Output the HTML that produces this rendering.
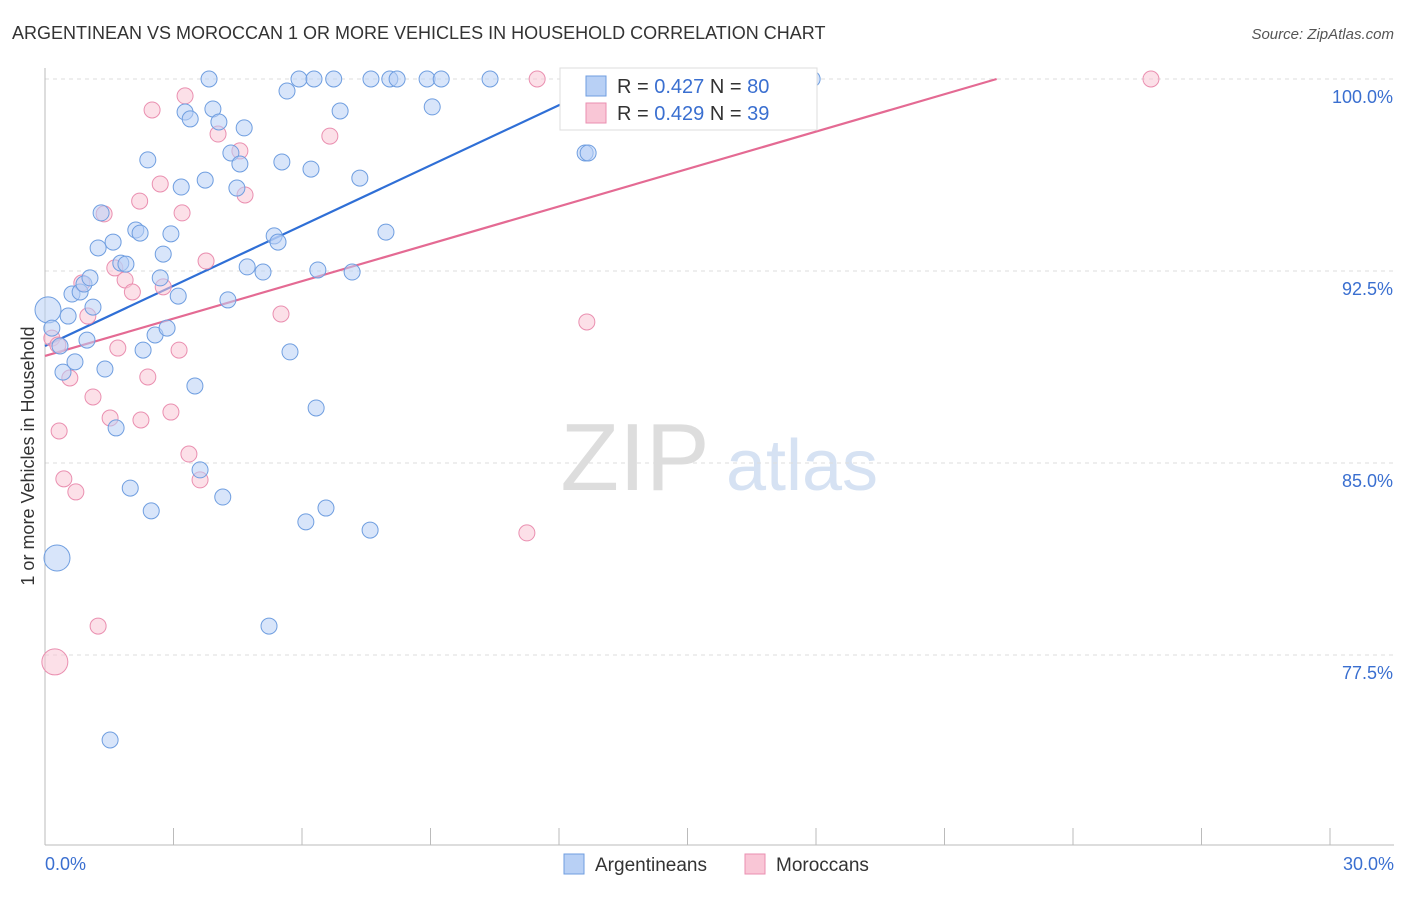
<!DOCTYPE html>
<html><head><meta charset="utf-8"><style>
body{margin:0;background:#fff;font-family:"Liberation Sans",sans-serif;}
svg text{font-family:"Liberation Sans",sans-serif;}
</style></head><body>
<svg id="chart" width="1406" height="892" viewBox="0 0 1406 892">
<text x="12" y="39" font-size="18" fill="#333">ARGENTINEAN VS MOROCCAN 1 OR MORE VEHICLES IN HOUSEHOLD CORRELATION CHART</text>
<text x="1394" y="39" font-size="15" fill="#555" font-style="italic" text-anchor="end">Source: ZipAtlas.com</text>
<text transform="translate(34,456) rotate(-90)" font-size="18" fill="#333" text-anchor="middle">1 or more Vehicles in Household</text>
<g>
<text x="635" y="490" font-size="96" fill="#ddd" font-family="Liberation Serif" text-anchor="middle">ZIP</text>
<text x="802" y="490" font-size="72" fill="#d6e2f3" text-anchor="middle">atlas</text>
</g>
<g id="grid"></g><g id="axes"></g><g id="lines"></g><g id="points"></g>
<g>
<rect x="560" y="68" width="257" height="62" fill="#fff" stroke="#ddd"/>
<rect x="586" y="76" width="20" height="20" fill="#b8d0f5" stroke="#6f9ee0"/>
<rect x="586" y="103" width="20" height="20" fill="#f9c6d6" stroke="#ea8fb0"/>
<text x="617" y="93" font-size="20" fill="#333">R = <tspan fill="#3a6fd0">0.427</tspan>   N = <tspan fill="#3a6fd0">80</tspan></text>
<text x="617" y="120" font-size="20" fill="#333">R = <tspan fill="#3a6fd0">0.429</tspan>   N = <tspan fill="#3a6fd0">39</tspan></text>
</g>
<g>
<rect x="564" y="854" width="20" height="20" fill="#b8d0f5" stroke="#6f9ee0"/>
<text x="595" y="871" font-size="19" fill="#333">Argentineans</text>
<rect x="745" y="854" width="20" height="20" fill="#f9c6d6" stroke="#ea8fb0"/>
<text x="776" y="871" font-size="19" fill="#333">Moroccans</text>
</g>
</svg>
<script>
const yTicks=[100,92.5,85,77.5];
const yTickLabels=["100.0%","92.5%","85.0%","77.5%"];
const xTickLabels=["0.0%","30.0%"];
const blueX=[0.07,0.16,0.28,0.35,0.42,0.54,0.63,0.70,0.82,0.91,0.98,1.05,1.12,1.24,1.31,1.40,1.52,1.59,1.66,1.77,1.89,1.99,2.12,2.22,2.29,2.40,2.48,2.57,2.69,2.76,2.85,2.94,3.11,3.18,3.27,3.39,3.50,3.62,3.74,3.83,3.92,4.06,4.15,4.27,4.34,4.48,4.55,4.65,4.72,5.09,5.23,5.35,5.44,5.53,5.65,5.72,5.93,6.09,6.21,6.28,6.33,6.37,6.56,6.74,6.89,7.17,7.35,7.59,7.61,7.96,8.05,8.22,8.92,9.04,9.25,10.39,12.61,12.68,17.91];
const blueY=[90.98,90.27,81.29,89.57,88.55,90.74,91.60,88.95,91.68,91.99,89.80,92.23,91.09,93.40,94.77,88.67,74.18,93.63,86.37,92.81,92.77,84.02,94.10,93.98,89.41,96.84,83.13,90.00,92.23,93.16,90.27,93.95,91.52,95.78,98.71,98.44,88.01,84.73,96.05,100,98.83,98.32,83.67,91.37,97.11,95.74,96.68,98.09,92.66,92.46,78.63,93.87,93.63,96.76,99.53,89.34,100,82.70,96.48,100,87.15,92.54,83.24,100,98.75,92.46,96.13,82.38,100,94.02,100,100,100,98.91,100,100,97.11,97.11,100];
const pinkX=[0.16,0.23,0.30,0.33,0.44,0.58,0.72,0.86,1.00,1.12,1.24,1.38,1.52,1.63,1.70,1.87,2.04,2.21,2.24,2.40,2.50,2.69,2.76,2.94,3.13,3.20,3.27,3.36,3.62,3.76,4.04,4.55,4.67,5.51,6.65,11.25,11.49,12.65,15.90,25.82];
const pinkY=[89.88,77.23,89.61,86.25,84.38,88.32,83.87,92.03,90.74,87.58,78.63,94.73,86.76,92.62,89.49,92.15,91.68,95.23,86.68,88.36,98.79,95.90,91.88,86.99,89.41,94.77,99.34,85.35,84.34,92.89,97.85,97.19,95.47,90.82,97.77,82.27,100,90.51,100,100];
const blueFit=[89.57,0.784];
const pinkFit=[89.18,0.487];
const X0=45,X1=1330,Y100=79,PXPER=192/7.5;
function sx(v){return X0+(v/30)*(X1-X0);}
function sy(v){return Y100+(100-v)*PXPER;}
const NS="http://www.w3.org/2000/svg";
function mk(t,a,p){const e=document.createElementNS(NS,t);for(const k in a)e.setAttribute(k,a[k]);p.appendChild(e);return e;}
const grid=document.getElementById('grid'),axes=document.getElementById('axes');
yTicks.forEach((t,i)=>{
 const l=mk('line',{x1:X0,x2:1394,y1:sy(t),y2:sy(t),stroke:'#ddd','stroke-dasharray':'4,4'},grid);
 
 
 const tx=mk('text',{x:1393,y:sy(t)+24,'font-size':18,fill:'#3a6fd0','text-anchor':'end'},axes);
 tx.textContent=yTickLabels[i];
 
 
});
const ya=mk('line',{x1:X0,x2:X0,y1:68,y2:845,stroke:'#bbb'},axes);


const xa=mk('line',{x1:X0,x2:1394,y1:845,y2:845,stroke:'#bbb'},axes);


for(let i=0;i<=10;i++){
 const t=mk('line',{x1:sx(i*3),x2:sx(i*3),y1:828,y2:845,stroke:'#bbb'},axes);
 
 
}
[[0,'start',45],[30,'end',1394]].forEach((d,i)=>{
 const t=mk('text',{x:d[2],y:870,'font-size':18,fill:'#3a6fd0','text-anchor':d[1]},axes);
 t.textContent=xTickLabels[i];
 
 
});
const pts=document.getElementById('points');
function drawPts(xs,ys,fill,stroke,name){
 xs.forEach((x,i)=>{
  const big=(name==='argentinean-point'&&(i===0||i===2))||(name==='moroccan-point'&&i===1);
  const c=mk('circle',{cx:sx(x),cy:sy(ys[i]),r:big?13:8,fill:fill,'fill-opacity':0.55,stroke:stroke,'stroke-width':1},pts);
  
  
 });
}
drawPts(pinkX,pinkY,'#f9c6d6','#ea8fb0','moroccan-point');
drawPts(blueX,blueY,'#b8d0f5','#6f9ee0','argentinean-point');
const lines=document.getElementById('lines');
function fit(f,col,name){
 const xe=(100-f[0])/f[1];
 const l=mk('line',{x1:sx(0),y1:sy(f[0]),x2:sx(xe),y2:sy(100),stroke:col,'stroke-width':2.2},lines);
 
 
}
fit(blueFit,'#2f6fd6','argentinean-trend-line');
fit(pinkFit,'#e46a93','moroccan-trend-line');
</script>
</body></html>
